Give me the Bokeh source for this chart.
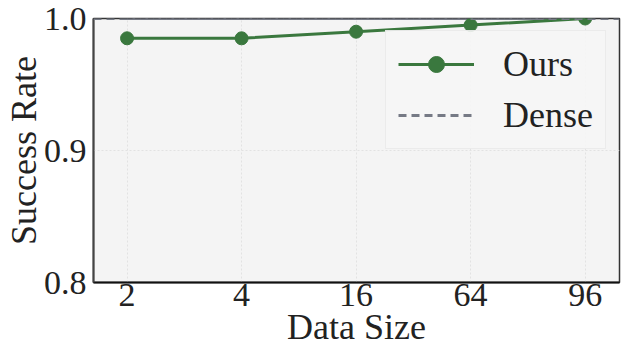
from bokeh.plotting import figure
from bokeh.models import Span, Legend, LegendItem, FixedTicker, PrintfTickFormatter
from bokeh.embed import file_html
from bokeh.resources import INLINE

data_sizes = ["2", "4", "16", "64", "96"]
ours = [0.985, 0.985, 0.990, 0.995, 1.000]
dense = [1.0, 1.0, 1.0, 1.0, 1.0]
y_ticks = [0.8, 0.9, 1.0]

x_idx = list(range(len(data_sizes)))
FONT = "Liberation Serif"
GREEN = "#3a783e"
GRAY = "#767a85"

p = figure(width=625, height=350, output_backend="svg", toolbar_location=None,
           x_range=(-0.293, 4.30), y_range=(0.8, 1.0),
           min_border_left=86, min_border_right=6, min_border_top=18,
           min_border_bottom=68)

p.background_fill_color = "#f4f4f4"
p.border_fill_color = "white"
p.outline_line_color = "#333333"
p.outline_line_width = 1.5

for g in (p.xgrid, p.ygrid):
    g.grid_line_color = "#e2e2e2"
    g.grid_line_dash = "2 2"
    g.grid_line_width = 1

p.xaxis.ticker = FixedTicker(ticks=x_idx)
p.xaxis.major_label_overrides = {i: s for i, s in zip(x_idx, data_sizes)}
p.yaxis.ticker = FixedTicker(ticks=y_ticks)
p.yaxis.formatter = PrintfTickFormatter(format="%.1f")

for ax in (p.xaxis[0], p.yaxis[0]):
    ax.major_tick_line_color = None
    ax.minor_tick_line_color = None
    ax.major_tick_out = 0
    ax.major_tick_in = 0
    ax.axis_line_width = 2
    ax.major_label_text_font = FONT
    ax.major_label_text_font_size = "34px"
    ax.major_label_text_color = "#222222"
    ax.axis_label_text_font = FONT
    ax.axis_label_text_font_size = "36px"
    ax.axis_label_text_font_style = "normal"
    ax.axis_label_text_color = "#222222"

p.xaxis.axis_line_color = "#111111"
p.yaxis.axis_line_color = "#444444"
p.xaxis.axis_label = "Data Size"
p.yaxis.axis_label = "Success Rate"
p.xaxis.major_label_standoff = 1
p.xaxis.axis_label_standoff = -2
p.yaxis.major_label_standoff = 7
p.yaxis.axis_label_standoff = -3

# dense reference
span = Span(location=dense[0], dimension="width", line_color=GRAY,
            line_dash="8 5", line_width=3)
p.add_layout(span)
dense_r = p.line(x=x_idx, y=dense, line_color=GRAY, line_dash="8 5", line_width=3)

# ours
line_r = p.line(x=x_idx, y=ours, line_color=GREEN, line_width=3)
circ_r = p.scatter(x=x_idx, y=ours, size=13, fill_color=GREEN, line_color=GREEN)

legend = Legend(items=[LegendItem(label="Ours", renderers=[line_r, circ_r]),
                       LegendItem(label="Dense", renderers=[dense_r])],
                location=(292, 133))
legend.label_text_font = FONT
legend.label_text_font_size = "36px"
legend.label_text_color = "#222222"
legend.glyph_width = 76
legend.glyph_height = 40
legend.label_height = 40
legend.spacing = 9
legend.padding = 12
legend.margin = 0
legend.label_standoff = 29
legend.background_fill_color = "#f6f6f6"
legend.background_fill_alpha = 0.9
legend.border_line_color = "#e0e0e0"
legend.border_line_width = 1
p.add_layout(legend)

open("out.html", "w").write(file_html(p, INLINE))
